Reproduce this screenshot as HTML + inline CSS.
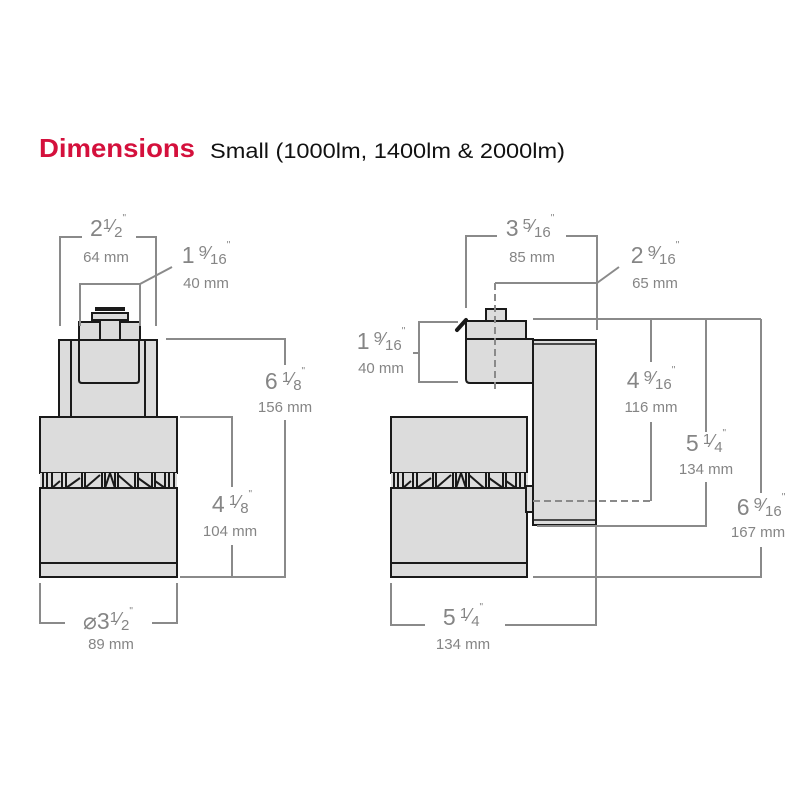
<!DOCTYPE html>
<html><head><meta charset="utf-8"><style>
html,body{margin:0;padding:0;background:#fff;}
svg{display:block;}
.d{stroke:#8a8a8a;stroke-width:2;fill:none;}
.dash{stroke:#8a8a8a;stroke-width:2;fill:none;stroke-dasharray:7 4;}
.b{fill:#dcdcdc;stroke:#1a1a1a;stroke-width:2;}
.t{font-family:"Liberation Sans",sans-serif;fill:#858585;text-anchor:middle;}
.big{font-size:23px;}
.mm{font-size:15px;}
</style></head><body>
<svg width="800" height="800" viewBox="0 0 800 800" xmlns="http://www.w3.org/2000/svg">
<defs>
<g id="fins">
  <rect x="0" y="0" width="137" height="15" fill="#dcdcdc"/>
  <g stroke="#1a1a1a" stroke-width="2">
    <line x1="3" y1="0" x2="3" y2="15"/><line x1="7" y1="0" x2="7" y2="15"/>
    <line x1="12" y1="0" x2="12" y2="15"/><line x1="22" y1="0" x2="22" y2="15"/>
    <line x1="26" y1="0" x2="26" y2="15"/><line x1="42" y1="0" x2="42" y2="15"/>
    <line x1="45" y1="0" x2="45" y2="15"/><line x1="62" y1="0" x2="62" y2="15"/>
    <line x1="65" y1="0" x2="65" y2="15"/><line x1="75" y1="0" x2="75" y2="15"/>
    <line x1="78" y1="0" x2="78" y2="15"/><line x1="95" y1="0" x2="95" y2="15"/>
    <line x1="98" y1="0" x2="98" y2="15"/><line x1="112" y1="0" x2="112" y2="15"/>
    <line x1="115" y1="0" x2="115" y2="15"/><line x1="125" y1="0" x2="125" y2="15"/>
    <line x1="129" y1="0" x2="129" y2="15"/><line x1="134" y1="0" x2="134" y2="15"/>
    <line x1="26" y1="15" x2="40" y2="5"/><line x1="45" y1="15" x2="60" y2="2"/>
    <line x1="65" y1="15" x2="70" y2="0"/><line x1="70" y1="0" x2="75" y2="15"/>
    <line x1="78" y1="2" x2="93" y2="15"/><line x1="98" y1="5" x2="112" y2="15"/>
    <line x1="12" y1="15" x2="20" y2="8"/><line x1="115" y1="8" x2="125" y2="15"/>
  </g>
</g>
</defs>

<text x="39" y="157" font-family="Liberation Sans,sans-serif" font-weight="bold" font-size="26" fill="#d4103c" textLength="156" lengthAdjust="spacingAndGlyphs">Dimensions</text>
<text x="210" y="158" font-family="Liberation Sans,sans-serif" font-size="21" fill="#111" textLength="355" lengthAdjust="spacingAndGlyphs">Small (1000lm, 1400lm &amp; 2000lm)</text>

<!-- LEFT FIXTURE -->
<rect class="b" x="59" y="340" width="98" height="77"/>
<line x1="71" y1="340" x2="71" y2="417" stroke="#1a1a1a" stroke-width="2"/>
<line x1="145" y1="340" x2="145" y2="417" stroke="#1a1a1a" stroke-width="2"/>
<path class="b" d="M79 340 V380 Q79 383 82 383 H136 Q139 383 139 380 V340 Z"/>
<rect class="b" x="79" y="322" width="61" height="18"/>
<rect class="b" x="100" y="320" width="20" height="20"/>
<rect class="b" x="92" y="313" width="36" height="7"/>
<rect x="95" y="307" width="30" height="4" fill="#1a1a1a"/>
<rect class="b" x="40" y="417" width="137" height="56"/>
<use href="#fins" x="40" y="473"/>
<rect class="b" x="40" y="488" width="137" height="75"/>
<rect class="b" x="40" y="563" width="137" height="14"/>

<!-- LEFT DIMENSIONS -->
<path class="d" d="M60 326 V237 H82 M136 237 H156 V326"/>
<text class="t big" x="108" y="236">2<tspan font-size="15" dy="-7">1</tspan><tspan font-size="18" dy="3">⁄</tspan><tspan font-size="15" dy="5">2</tspan><tspan font-size="10" dy="-16">"</tspan></text>
<text class="t mm" x="106" y="262">64 mm</text>
<path class="d" d="M80 326 V284 H140 V326 M140 284 L172 267"/>
<text class="t big" x="206" y="263">1<tspan font-size="15" dy="-7"> 9</tspan><tspan font-size="18" dy="3">⁄</tspan><tspan font-size="15" dy="5">16</tspan><tspan font-size="10" dy="-16">"</tspan></text>
<text class="t mm" x="206" y="288">40 mm</text>
<path class="d" d="M166 339 H285 V365 M285 420 V577 H180"/>
<text class="t big" x="285" y="389">6<tspan font-size="15" dy="-7"> 1</tspan><tspan font-size="18" dy="3">⁄</tspan><tspan font-size="15" dy="5">8</tspan><tspan font-size="10" dy="-16">"</tspan></text>
<text class="t mm" x="285" y="412">156 mm</text>
<path class="d" d="M180 417 H232 V487 M232 545 V577"/>
<text class="t big" x="232" y="512">4<tspan font-size="15" dy="-7"> 1</tspan><tspan font-size="18" dy="3">⁄</tspan><tspan font-size="15" dy="5">8</tspan><tspan font-size="10" dy="-16">"</tspan></text>
<text class="t mm" x="230" y="536">104 mm</text>
<path class="d" d="M40 583 V623 H65 M152 623 H177 V583"/>
<text class="t big" x="108" y="629">⌀3<tspan font-size="15" dy="-7">1</tspan><tspan font-size="18" dy="3">⁄</tspan><tspan font-size="15" dy="5">2</tspan><tspan font-size="10" dy="-16">"</tspan></text>
<text class="t mm" x="111" y="649">89 mm</text>

<!-- RIGHT FIXTURE -->
<rect class="b" x="533" y="340" width="63" height="185"/>
<line x1="533" y1="344" x2="596" y2="344" stroke="#1a1a1a" stroke-width="1.5"/>
<line x1="533" y1="520" x2="596" y2="520" stroke="#1a1a1a" stroke-width="1.5"/>
<path class="b" d="M466 339 H533 V383 H470 Q466 383 466 379 Z"/>
<rect class="b" x="466" y="321" width="60" height="18"/>
<rect class="b" x="486" y="309" width="20" height="12"/>
<line x1="457" y1="330" x2="466" y2="320" stroke="#1a1a1a" stroke-width="4" stroke-linecap="round"/>
<rect class="b" x="391" y="417" width="136" height="56"/>
<use href="#fins" x="391" y="473"/>
<rect class="b" x="391" y="488" width="136" height="75"/>
<rect class="b" x="391" y="563" width="136" height="14"/>
<rect class="b" x="526" y="486" width="7" height="26"/>

<!-- RIGHT DIMENSIONS -->
<path class="d" d="M466 308 V236 H497 M566 236 H597 V330"/>
<text class="t big" x="530" y="236">3<tspan font-size="15" dy="-7"> 5</tspan><tspan font-size="18" dy="3">⁄</tspan><tspan font-size="15" dy="5">16</tspan><tspan font-size="10" dy="-16">"</tspan></text>
<text class="t mm" x="532" y="262">85 mm</text>
<path class="d" d="M495 283 H597 M597 283 L619 267"/>
<path class="dash" d="M495 283 V390"/>
<text class="t big" x="655" y="263">2<tspan font-size="15" dy="-7"> 9</tspan><tspan font-size="18" dy="3">⁄</tspan><tspan font-size="15" dy="5">16</tspan><tspan font-size="10" dy="-16">"</tspan></text>
<text class="t mm" x="655" y="288">65 mm</text>
<path class="d" d="M458 322 H419 V382 H458 M413 353 H419"/>
<text class="t big" x="381" y="349">1<tspan font-size="15" dy="-7"> 9</tspan><tspan font-size="18" dy="3">⁄</tspan><tspan font-size="15" dy="5">16</tspan><tspan font-size="10" dy="-16">"</tspan></text>
<text class="t mm" x="381" y="373">40 mm</text>
<path class="d" d="M533 319 H761 M651 319 V362 M651 422 V501 M706 319 V432 M706 482 V526 H537 M761 319 V493 M761 547 V577 H533 M596 525 V625 H391 V583"/>
<path class="dash" d="M533 501 H651"/>
<text class="t big" x="651" y="388">4<tspan font-size="15" dy="-7"> 9</tspan><tspan font-size="18" dy="3">⁄</tspan><tspan font-size="15" dy="5">16</tspan><tspan font-size="10" dy="-16">"</tspan></text>
<text class="t mm" x="651" y="412">116 mm</text>
<text class="t big" x="706" y="451">5<tspan font-size="15" dy="-7"> 1</tspan><tspan font-size="18" dy="3">⁄</tspan><tspan font-size="15" dy="5">4</tspan><tspan font-size="10" dy="-16">"</tspan></text>
<text class="t mm" x="706" y="474">134 mm</text>
<text class="t big" x="761" y="515">6<tspan font-size="15" dy="-7"> 9</tspan><tspan font-size="18" dy="3">⁄</tspan><tspan font-size="15" dy="5">16</tspan><tspan font-size="10" dy="-16">"</tspan></text>
<text class="t mm" x="758" y="537">167 mm</text>
<rect x="425" y="605" width="80" height="26" fill="#fff"/>
<text class="t big" x="463" y="625">5<tspan font-size="15" dy="-7"> 1</tspan><tspan font-size="18" dy="3">⁄</tspan><tspan font-size="15" dy="5">4</tspan><tspan font-size="10" dy="-16">"</tspan></text>
<text class="t mm" x="463" y="649">134 mm</text>
</svg>
</body></html>
